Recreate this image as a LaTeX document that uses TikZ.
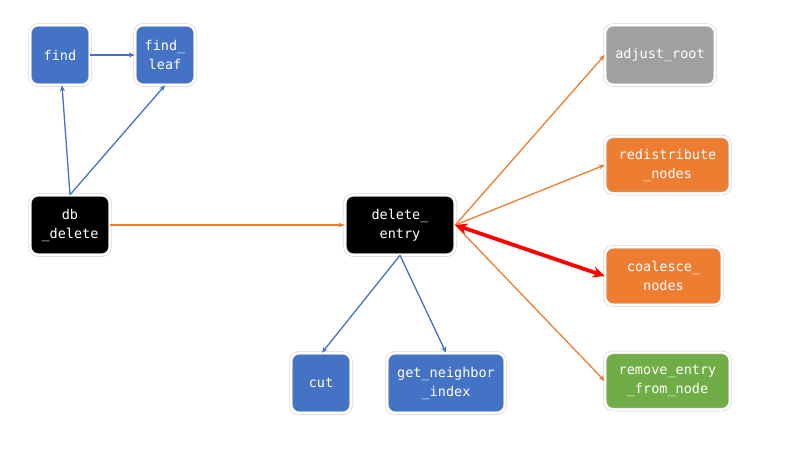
\documentclass[tikz,border=0pt]{standalone}
\usepackage{fontspec}
\setmonofont{DejaVu Sans Mono}
\usetikzlibrary{arrows.meta,shadows}
\definecolor{cblue}{HTML}{4472C4}
\definecolor{corange}{HTML}{ED7D31}
\definecolor{cgray}{HTML}{A0A0A0}
\definecolor{cgreen}{HTML}{70AD47}
\tikzset{
  box/.style={rectangle, rounded corners=8pt, draw=black!18, line width=0.6pt,
    double=white, double distance=2.2pt,
    text=white, align=center, inner sep=0pt,
    font=\ttfamily\fontsize{13.5}{19}\selectfont,
    drop shadow={shadow xshift=0.5pt, shadow yshift=-1.5pt, opacity=0.3, fill=black!60}},
  bluebox/.style={box, fill=cblue},
  blackbox/.style={box, fill=black},
  graybox/.style={box, fill=cgray},
  orangebox/.style={box, fill=corange},
  greenbox/.style={box, fill=cgreen},
  blueline/.style={draw=cblue, line width=1.3pt, -{Stealth[length=6pt,width=5pt]}},
  orangeline/.style={draw=corange, line width=1.3pt, -{Stealth[length=6pt,width=5pt]}},
  redline/.style={draw=red, line width=3.8pt, {Stealth[length=12pt,width=11pt]}-{Stealth[length=12pt,width=11pt]}},
}
\begin{document}
\begin{tikzpicture}[x=1pt,y=-1pt]
\useasboundingbox (0,0) rectangle (800,450);
\node[bluebox, minimum width=60pt, minimum height=60pt] (find) at (60,55) {find};
\node[bluebox, minimum width=60pt, minimum height=60pt] (findleaf) at (165,55) {find\_\\leaf};
\node[blackbox, minimum width=80pt, minimum height=60pt] (db) at (70,225) {db\\\_delete};
\node[blackbox, minimum width=110pt, minimum height=60pt] (de) at (400,225) {delete\_\\entry};
\node[graybox, minimum width=110pt, minimum height=60pt] (adj) at (660,55) {adjust\_root};
\node[orangebox, minimum width=125pt, minimum height=57pt] (redis) at (667.5,165) {redistribute\\\_nodes};
\node[orangebox, minimum width=117pt, minimum height=58pt] (coal) at (663.5,276) {coalesce\_\\nodes};
\node[greenbox, minimum width=125pt, minimum height=57pt] (rem) at (667.5,381) {remove\_entry\\\_from\_node};
\node[bluebox, minimum width=60pt, minimum height=60pt] (cut) at (321,383) {cut};
\node[bluebox, minimum width=118pt, minimum height=60pt] (gni) at (446,383) {get\_neighbor\\\_index};

\draw[blueline] (find.east) -- (findleaf.west);
\draw[blueline] (db.north) -- ([xshift=2pt]find.south);
\draw[blueline] (db.north) -- (findleaf.south);
\draw[orangeline] (db.east) -- (de.west);
\draw[orangeline] (de.east) -- (adj.west);
\draw[orangeline] (de.east) -- (redis.west);
\draw[orangeline] (de.east) -- (rem.west);
\draw[redline] (de.east) -- (coal.west);
\draw[blueline] (de.south) -- ([xshift=1pt]cut.north);
\draw[blueline] (de.south) -- (gni.north);
\end{tikzpicture}
\end{document}
